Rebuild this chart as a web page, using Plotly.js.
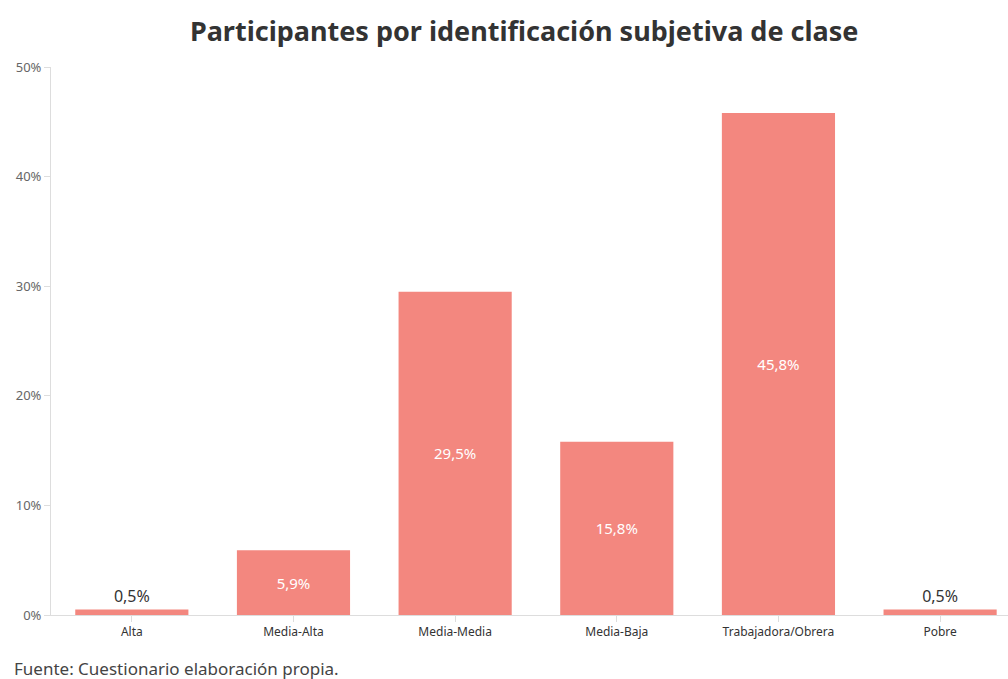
<!DOCTYPE html>
<html>
<head>
<meta charset="utf-8">
<script src="https://cdn.plot.ly/plotly-3.0.1.min.js"></script>
<style>
html,body{margin:0;padding:0;background:#fff;}
#chart{width:1008px;height:679px;}
</style>
</head>
<body>
<div id="chart"></div>
<script>
const categories = ["Alta", "Media-Alta", "Media-Media", "Media-Baja", "Trabajadora/Obrera", "Pobre"];
const values = [0.5, 5.9, 29.5, 15.8, 45.8, 0.5];
const yTicks = [0, 10, 20, 30, 40, 50];
const titleText = "Participantes por identificación subjetiva de clase";
const sourceText = "Fuente: Cuestionario elaboración propia.";

const FONT = "'Noto Sans', 'Open Sans', sans-serif";
const labels = values.map(v => v.toFixed(1).replace('.', ',') + '%');
const positions = values.map(v => v < 3 ? 'outside' : 'inside');
const colors = values.map(v => v < 3 ? '#333333' : '#ffffff');

const trace = {
  type: 'bar',
  x: categories,
  y: values,
  text: labels,
  textposition: positions,
  insidetextanchor: 'middle',
  textfont: {family: FONT, size: 15, color: colors},
  outsidetextfont: {family: FONT, size: 16, color: '#333333'},
  insidetextfont: {family: FONT, size: 15, color: '#ffffff'},
  marker: {color: '#F3877F'},
  cliponaxis: false,
  hoverinfo: 'none'
};

const layout = {
  width: 1008,
  height: 679,
  margin: {l: 51, r: 0, t: 67, b: 64},
  paper_bgcolor: '#ffffff',
  plot_bgcolor: '#ffffff',
  bargap: 0.3,
  showlegend: false,
  font: {family: FONT, color: '#333'},
  title: {
    text: '<b>' + titleText + '</b>',
    font: {family: FONT, size: 27, color: '#333333'},
    x: 0.52, xanchor: 'center',
    y: 0.953, yanchor: 'middle'
  },
  xaxis: {
    type: 'category',
    range: [-0.5, 5.42],
    showgrid: false,
    showline: true,
    linecolor: '#dddddd',
    linewidth: 1,
    ticks: 'outside',
    ticklen: 6,
    tickcolor: '#dddddd',
    tickfont: {family: FONT, size: 12, color: '#333333'},
    zeroline: false,
    fixedrange: true
  },
  yaxis: {
    range: [0, 50],
    tickvals: yTicks,
    ticktext: yTicks.map(t => t + '%'),
    showgrid: false,
    showline: true,
    linecolor: '#dddddd',
    linewidth: 1,
    ticks: 'outside',
    ticklen: 6,
    tickcolor: '#dddddd',
    tickfont: {family: FONT, size: 13, color: '#666666'},
    zeroline: false,
    fixedrange: true
  },
  annotations: [{
    text: sourceText,
    xref: 'paper', yref: 'paper',
    x: 0, y: 0, xshift: -39, yshift: -53,
    xanchor: 'left', yanchor: 'middle',
    showarrow: false,
    font: {family: FONT, size: 17, color: '#444444'}
  }]
};

Plotly.newPlot('chart', [trace], layout, {displayModeBar: false, staticPlot: true});
</script>
</body>
</html>
